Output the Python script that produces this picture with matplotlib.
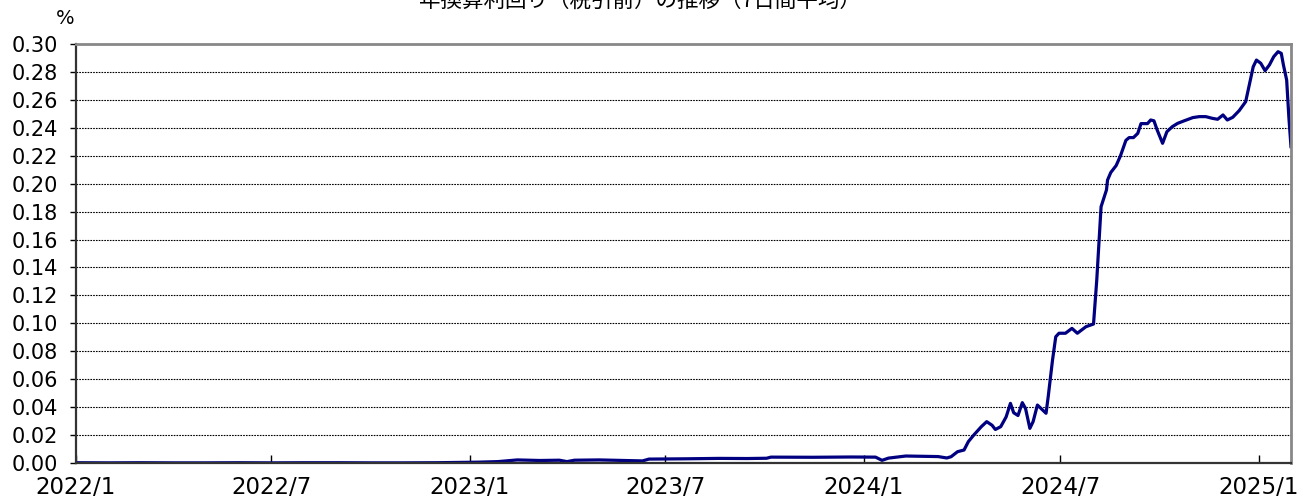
import matplotlib
matplotlib.use("Agg")
import matplotlib.pyplot as plt
import matplotlib.dates as mdates
import pandas as pd
import numpy as np

plt.rcParams['font.family'] = ['DejaVu Sans', 'Noto Sans CJK JP']

# 7-day average yield (annualised, pre-tax), in %
dates = [
    "2022-01-01", "2022-02-01", "2022-03-01", "2022-04-01", "2022-05-01", "2022-06-01",
    "2022-07-01", "2022-08-01", "2022-09-01", "2022-10-01", "2022-11-01", "2022-12-01",
    "2023-01-09", "2023-01-27", "2023-02-14", "2023-03-07", "2023-03-25", "2023-04-01",
    "2023-04-08", "2023-05-01", "2023-06-10", "2023-06-16", "2023-07-20", "2023-08-20",
    "2023-09-15", "2023-10-03", "2023-10-07", "2023-11-15", "2023-12-20", "2024-01-12",
    "2024-01-18", "2024-01-24", "2024-02-09", "2024-03-10", "2024-03-18", "2024-03-22",
    "2024-03-28", "2024-04-03", "2024-04-07", "2024-04-12", "2024-04-19", "2024-04-24",
    "2024-04-29", "2024-05-02", "2024-05-07", "2024-05-12", "2024-05-16", "2024-05-19",
    "2024-05-23", "2024-05-27", "2024-05-30", "2024-06-03", "2024-06-06", "2024-06-10",
    "2024-06-18", "2024-06-20", "2024-06-24", "2024-06-27", "2024-06-30", "2024-07-06",
    "2024-07-12", "2024-07-17", "2024-07-25", "2024-08-01", "2024-08-04", "2024-08-08",
    "2024-08-13", "2024-08-14", "2024-08-17", "2024-08-22", "2024-08-26", "2024-08-31",
    "2024-09-03", "2024-09-07", "2024-09-11", "2024-09-14", "2024-09-20", "2024-09-23",
    "2024-09-26", "2024-09-29", "2024-10-04", "2024-10-08", "2024-10-13", "2024-10-18",
    "2024-10-24", "2024-11-01", "2024-11-07", "2024-11-13", "2024-11-19", "2024-11-24",
    "2024-11-29", "2024-12-03", "2024-12-08", "2024-12-14", "2024-12-20", "2024-12-23",
    "2024-12-27", "2024-12-30", "2025-01-03", "2025-01-07", "2025-01-11", "2025-01-15",
    "2025-01-19", "2025-01-22", "2025-01-24", "2025-01-27", "2025-01-29", "2025-01-31",
]
values = [
    0.0002, 0.0001, 0.0002, 0.0001, 0.0001, 0.0002,
    0.0001, 0.0002, 0.0002, 0.0001, 0.0001, 0.0002,
    0.0006, 0.0010, 0.0022, 0.0018, 0.0020, 0.0010,
    0.0020, 0.0022, 0.0015, 0.0028, 0.0030, 0.0033,
    0.0032, 0.0034, 0.0042, 0.0041, 0.0043, 0.0042,
    0.0019, 0.0035, 0.0050, 0.0046, 0.0036, 0.0045,
    0.0081, 0.0093, 0.0153, 0.0200, 0.0260, 0.0296,
    0.0270, 0.0240, 0.0260, 0.0330, 0.0427, 0.0360,
    0.0340, 0.0432, 0.0390, 0.0248, 0.0296, 0.0415,
    0.0356, 0.0475, 0.0737, 0.0904, 0.0929, 0.0929,
    0.0964, 0.0929, 0.0976, 0.0995, 0.1310, 0.1835,
    0.1955, 0.2026, 0.2080, 0.2130, 0.2200, 0.2310,
    0.2330, 0.2330, 0.2360, 0.2430, 0.2430, 0.2456,
    0.2450, 0.2384, 0.2289, 0.2372, 0.2408, 0.2432,
    0.2450, 0.2473, 0.2480, 0.2480, 0.2468, 0.2461,
    0.2492, 0.2456, 0.2475, 0.2523, 0.2587, 0.2694,
    0.2837, 0.2885, 0.2862, 0.2809, 0.2850, 0.2909,
    0.2945, 0.2933, 0.2850, 0.2742, 0.2480, 0.2265,
]
title = "年換算利回り（税引前）の推移（7日間平均）"

x = pd.to_datetime(dates)

fig = plt.figure(figsize=(13.06, 5.0), dpi=100)
ax = fig.add_axes([0.0582, 0.074, 0.9303, 0.838])

ax.plot(x, values, color='#000080', lw=2.3, solid_joinstyle='round')

ax.set_xlim(pd.Timestamp("2022-01-01"), pd.Timestamp("2025-01-31"))
ax.set_ylim(0, 0.30)
ax.set_yticks(np.arange(0, 0.301, 0.02))
ax.yaxis.set_major_formatter(matplotlib.ticker.FormatStrFormatter('%.2f'))

ax.xaxis.set_major_locator(mdates.MonthLocator(bymonth=[1, 7]))
ax.xaxis.set_major_formatter(matplotlib.ticker.FuncFormatter(
    lambda v, p: "%d/%d" % (mdates.num2date(v).year, mdates.num2date(v).month)))

ax.grid(axis='y', color='black', lw=0.8, linestyle=(0, (1.5, 1)))
ax.set_axisbelow(True)

ax.tick_params(axis='x', direction='in', length=6, width=1, pad=9, labelsize=16.5)
ax.tick_params(axis='y', direction='out', length=4, width=1, pad=9, labelsize=15)

for side in ['left', 'bottom']:
    ax.spines[side].set_color('#333333')
    ax.spines[side].set_linewidth(1.6)
for side in ['top', 'right']:
    ax.spines[side].set_color('#888888')
    ax.spines[side].set_linewidth(2.0)

fig.text(65 / 1306, 1 - 18 / 500, "%", fontsize=14, ha='center', va='center')
fig.text(640 / 1306, 1 - 7 / 500, title, fontsize=15.5, ha='center', va='baseline',
         family=['Noto Sans CJK JP', 'DejaVu Sans'])

fig.savefig("out.png", dpi=100)
